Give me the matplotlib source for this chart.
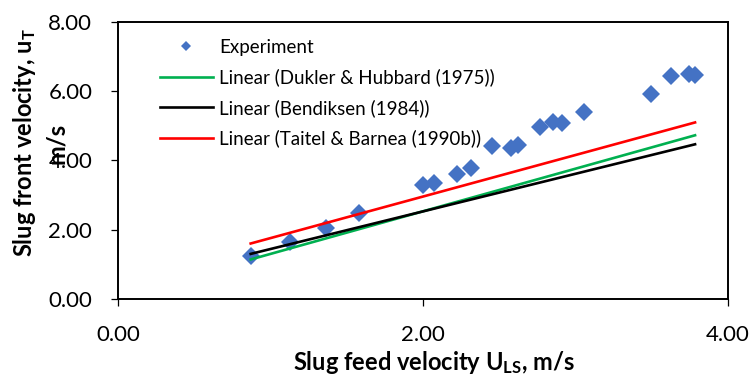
import matplotlib
matplotlib.use('Agg')
import matplotlib.pyplot as plt
from matplotlib.ticker import FormatStrFormatter, FixedLocator

plt.rcParams['font.family'] = ['Lato', 'DejaVu Sans']
plt.rcParams['mathtext.fontset'] = 'custom'
plt.rcParams['mathtext.rm'] = 'Lato'
plt.rcParams['mathtext.bf'] = 'Lato:bold'
plt.rcParams['mathtext.it'] = 'Lato:italic'

# Experimental data: slug feed velocity U_LS (m/s) vs slug front velocity u_T (m/s)
u_ls = [0.87, 1.128, 1.362, 1.582, 1.998, 2.074, 2.225, 2.313, 2.45, 2.58,
        2.625, 2.77, 2.85, 2.91, 3.056, 3.495, 3.624, 3.744, 3.784]
u_t = [1.25, 1.63, 2.04, 2.47, 3.28, 3.35, 3.59, 3.79, 4.41, 4.36,
       4.44, 4.96, 5.09, 5.06, 5.39, 5.90, 6.43, 6.50, 6.45]

# Linear trend lines of the model predictions (end points)
fit_x = [0.87, 3.784]
dukler = [1.14, 4.72]
bendiksen = [1.30, 4.46]
taitel = [1.60, 5.09]

labels = ['Experiment', 'Linear (Dukler & Hubbard (1975))',
          'Linear (Bendiksen (1984))', 'Linear (Taitel & Barnea (1990b))']
x_ticks = [0, 2, 4]
y_ticks = [0, 2, 4, 6, 8]

fig = plt.figure(figsize=(7.52, 3.76), dpi=100)
ax = fig.add_axes([118/752, 1-299/376, (728-118)/752, (299-21.5)/376])

ax.plot(u_ls, u_t, linestyle='none', marker='D', markersize=9.4,
        markerfacecolor='#4472C4', markeredgewidth=0, color='#4472C4',
        label=labels[0], zorder=2)
ax.plot(fit_x, dukler, color='#00B050', lw=1.9, label=labels[1], zorder=3)
ax.plot(fit_x, bendiksen, color='black', lw=1.9, label=labels[2], zorder=3)
ax.plot(fit_x, taitel, color='#FF0000', lw=1.9, label=labels[3], zorder=3)

ax.set_xlim(0, 4)
ax.set_ylim(0, 8)
ax.xaxis.set_major_locator(FixedLocator(x_ticks))
ax.yaxis.set_major_locator(FixedLocator(y_ticks))
ax.xaxis.set_major_formatter(FormatStrFormatter('%.2f'))
ax.yaxis.set_major_formatter(FormatStrFormatter('%.2f'))
ax.tick_params(direction='out', length=5, width=0.9, labelsize=16,
               colors='black')
ax.tick_params(axis='x', pad=13.5)
ax.tick_params(axis='y', pad=13.5)
for s in ax.spines.values():
    s.set_linewidth(1.4)
    s.set_color('black')

leg = ax.legend(loc='upper left', bbox_to_anchor=(160/752, 1-39/376),
                bbox_transform=fig.transFigure, frameon=False, fontsize=13.5,
                handlelength=2.8, handletextpad=0.37, labelspacing=0.67,
                borderpad=0, borderaxespad=0, markerscale=0.55)

fig.text(39.5/752, 1-143/376, 'Slug front velocity, $\\mathbf{u_T}$\nm/s',
         rotation=90, ha='center', va='center', multialignment='center',
         fontsize=17, fontweight='bold', linespacing=1.4)
fig.text(434/752, 1-362/376, 'Slug feed velocity $\\mathbf{U_{LS}}$, m/s',
         ha='center', va='center', fontsize=17, fontweight='bold')

fig.savefig('out.png', dpi=100)
